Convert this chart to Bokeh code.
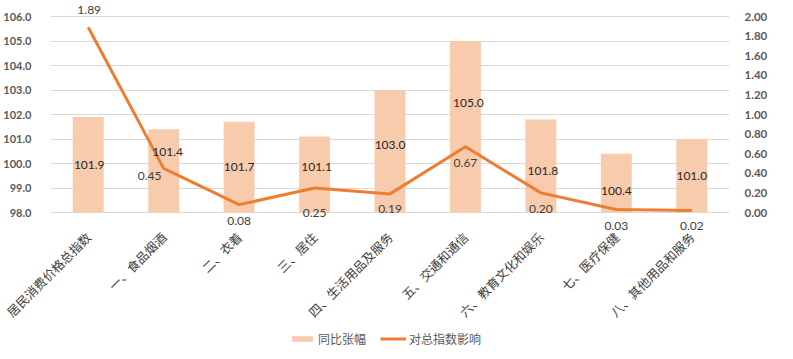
import math
from bokeh.plotting import figure
from bokeh.models import (ColumnDataSource, Range1d, LinearAxis, FactorRange, Legend,
                          LegendItem, FixedTicker, NumeralTickFormatter)
from bokeh.core.properties import value
from bokeh.embed import file_html
from bokeh.resources import INLINE

categories = ["居民消费价格总指数", "一、食品烟酒", "二、衣着", "三、居住", "四、生活用品及服务",
              "五、交通和通信", "六、教育文化和娱乐", "七、医疗保健", "八、其他用品和服务"]
yoy = [101.9, 101.4, 101.7, 101.1, 103.0, 105.0, 101.8, 100.4, 101.0]
impact = [1.89, 0.45, 0.08, 0.25, 0.19, 0.67, 0.20, 0.03, 0.02]
left_ticks = [98, 99, 100, 101, 102, 103, 104, 105, 106]
right_ticks = [0.0, 0.2, 0.4, 0.6, 0.8, 1.0, 1.2, 1.4, 1.6, 1.8, 2.0]

# label placement styles (screen px, positive = down)
bar_lbl_dy = [0, -19, 0, -8, -6, -24, 5, 8, 0]
bar_lbl_dx = [1, 4, 0, 2, 0, 3, 2, 0, 0]
line_lbl_dy = [-17, 8, 16, 25, 15, 16, 16, 16, 15]
line_lbl_dx = [1, -14, 0, 0, 0, 0, 0, 0, 0]

# layout (px): the frame spans almost the whole canvas height so that the data labels
# and the legend (drawn inside the frame) are not clipped; the axes are pinned by ranges.
W, H = 793, 359
FRAME_TOP, FRAME_BOTTOM = 4, 352
AX_TOP_PX, AX_BOTTOM_PX = 16, 212         # where 106 and 98 sit
X_LABEL_END_PX = 236                      # where the rotated category labels end
L_MIN, L_MAX = 98.0, 106.0
R_MIN, R_MAX = 0.0, 2.0
k = (AX_BOTTOM_PX - AX_TOP_PX) / (L_MAX - L_MIN)
y_hi = L_MAX + (AX_TOP_PX - FRAME_TOP) / k
y_lo = L_MIN - (FRAME_BOTTOM - AX_BOTTOM_PX) / k
rs = (R_MAX - R_MIN) / (L_MAX - L_MIN)
r_hi = R_MIN + (y_hi - L_MIN) * rs
r_lo = R_MIN + (y_lo - L_MIN) * rs

BASE = 98.0
bar_color = "#F8CBAD"
line_color = "#ED7D31"
num_font = "Lato"
cjk_font = "Noto Sans CJK SC"

p = figure(x_range=FactorRange(factors=categories, range_padding=0),
           y_range=Range1d(y_lo, y_hi), width=W, height=H,
           output_backend="svg", toolbar_location=None,
           min_border_left=45, min_border_right=64, min_border_top=FRAME_TOP,
           min_border_bottom=H - FRAME_BOTTOM)
p.outline_line_color = None
p.background_fill_color = "white"
p.border_fill_color = "white"
p.extra_y_ranges = {"right": Range1d(r_lo, r_hi)}

src = ColumnDataSource(dict(
    x=categories, top=yoy, bottom=[BASE] * len(yoy), imp=impact,
    bar_mid=[(BASE + v) / 2 for v in yoy],
    bar_txt=["%.1f" % v for v in yoy],
    imp_txt=["%.2f" % v for v in impact],
    bdy=bar_lbl_dy, bdx=bar_lbl_dx, ldy=line_lbl_dy, ldx=line_lbl_dx,
))

bars = p.vbar(x="x", top="top", bottom="bottom", width=0.41, source=src,
              fill_color=bar_color, line_color=None)
line = p.line(x="x", y="imp", source=src, y_range_name="right",
              line_color=line_color, line_width=3, line_join="round")

p.text(x="x", y="bar_mid", text="bar_txt", source=src, x_offset="bdx", y_offset="bdy",
       text_align="center", text_baseline="middle", text_font=value(num_font),
       text_font_size="12px", text_color="#262626")
p.text(x="x", y="imp", text="imp_txt", source=src, y_range_name="right",
       x_offset="ldx", y_offset="ldy",
       text_align="center", text_baseline="middle", text_font=value(num_font),
       text_font_size="12px", text_color="#404040")

# axes
p.yaxis.ticker = FixedTicker(ticks=left_ticks)
p.yaxis.formatter = NumeralTickFormatter(format="0.0")
p.yaxis.axis_line_color = None
p.yaxis.major_tick_line_color = None
p.yaxis.minor_tick_line_color = None
p.yaxis.major_label_text_font = num_font
p.yaxis.major_label_text_font_style = "bold"
p.yaxis.major_label_text_font_size = "11px"
p.yaxis.major_label_text_color = "#595959"
p.yaxis.major_label_standoff = 13

ra = LinearAxis(y_range_name="right", ticker=FixedTicker(ticks=right_ticks),
                formatter=NumeralTickFormatter(format="0.00"))
ra.axis_line_color = None
ra.major_tick_line_color = None
ra.minor_tick_line_color = None
ra.major_label_text_font = num_font
ra.major_label_text_font_style = "bold"
ra.major_label_text_font_size = "11.5px"
ra.major_label_text_color = "#595959"
ra.major_label_standoff = 9
p.add_layout(ra, "right")

p.xaxis.axis_line_color = None
p.xaxis.major_tick_line_color = None
p.xaxis.minor_tick_line_color = None
p.xaxis.major_tick_out = 0
p.xaxis.major_label_orientation = math.pi / 4
p.xaxis.major_label_text_font = cjk_font
p.xaxis.major_label_text_font_size = "12.5px"
p.xaxis.major_label_text_color = "#404040"
p.xaxis.major_label_standoff = X_LABEL_END_PX - 2 - FRAME_BOTTOM

p.xgrid.grid_line_color = None
p.ygrid.grid_line_color = "#D9D9D9"
p.ygrid.grid_line_width = 1

legend = Legend(items=[LegendItem(label="同比张幅", renderers=[bars]),
                       LegendItem(label="对总指数影响", renderers=[line])],
                orientation="horizontal", location=(239, 5),
                label_text_font=cjk_font, label_text_font_size="12px",
                label_text_color="#595959", glyph_width=26, glyph_height=7,
                label_standoff=3, spacing=14, padding=4, margin=0,
                background_fill_alpha=0, border_line_color=None)
p.add_layout(legend, "center")

html = file_html(p, INLINE)
html = html.replace("<head>", "<head><style>html,body{margin:0;padding:0;overflow:hidden}</style>", 1)
open("out.html", "w").write(html)
